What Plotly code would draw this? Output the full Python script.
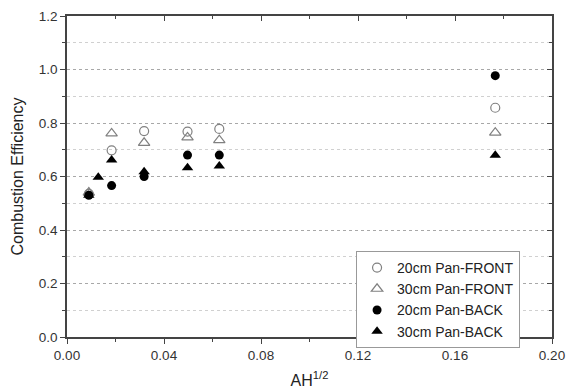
import plotly.graph_objects as go

# Data
x_20_front = [0.009, 0.0184, 0.0318, 0.0497, 0.0628, 0.1766]
y_20_front = [0.535, 0.698, 0.770, 0.768, 0.778, 0.857]

x_30_front = [0.009, 0.0184, 0.0318, 0.0497, 0.0628, 0.1766]
y_30_front = [0.540, 0.761, 0.726, 0.746, 0.736, 0.764]

x_20_back = [0.009, 0.0184, 0.0318, 0.0497, 0.0628, 0.1766]
y_20_back = [0.530, 0.566, 0.600, 0.680, 0.680, 0.977]

x_30_back = [0.009, 0.0129, 0.0184, 0.0318, 0.0497, 0.0628, 0.1766]
y_30_back = [0.530, 0.597, 0.662, 0.618, 0.633, 0.639, 0.679]

x_ticks = [0.00, 0.04, 0.08, 0.12, 0.16, 0.20]
x_tick_labels = ["0.00", "0.04", "0.08", "0.12", "0.16", "0.20"]
y_ticks = [0.0, 0.2, 0.4, 0.6, 0.8, 1.0, 1.2]
y_tick_labels = ["0.0", "0.2", "0.4", "0.6", "0.8", "1.0", "1.2"]

FONT = "Liberation Sans, Arial, sans-serif"
AXC = "#444444"
OPEN_C = "#808080"

fig = go.Figure()
fig.add_trace(go.Scatter(x=x_20_front, y=y_20_front, mode="markers", name="20cm Pan-FRONT",
                         marker=dict(symbol="circle-open", size=9, color=OPEN_C, line=dict(width=1.2))))
fig.add_trace(go.Scatter(x=x_30_front, y=y_30_front, mode="markers", name="30cm Pan-FRONT",
                         marker=dict(symbol="triangle-up-open", size=10, color=OPEN_C, line=dict(width=1.2))))
fig.add_trace(go.Scatter(x=x_20_back, y=y_20_back, mode="markers", name="20cm Pan-BACK",
                         marker=dict(symbol="circle", size=9, color="black")))
fig.add_trace(go.Scatter(x=x_30_back, y=y_30_back, mode="markers", name="30cm Pan-BACK",
                         marker=dict(symbol="triangle-up", size=10, color="black")))
# empty trace to activate mirrored top/right axes
fig.add_trace(go.Scatter(x=[], y=[], xaxis="x2", yaxis="y2", showlegend=False, hoverinfo="skip"))

fig.update_layout(
    width=566, height=392,
    margin=dict(l=67, r=14, t=16, b=55, autoexpand=False),
    paper_bgcolor="white", plot_bgcolor="white",
    font=dict(family=FONT, color="#333333"),
    showlegend=True,
    legend=dict(x=0.596, y=0.268, xanchor="left", yanchor="top",
                bordercolor="#999999", borderwidth=1, bgcolor="white",
                font=dict(size=14, family=FONT, color="#222222"),
                tracegroupgap=0, itemwidth=30),
    xaxis=dict(range=[0, 0.2], tickvals=x_ticks, ticktext=x_tick_labels, automargin=False,
               showgrid=False, zeroline=False, showline=True, linecolor=AXC, linewidth=1.5,
               ticks="outside", ticklen=5, tickwidth=1.2, tickcolor=AXC,
               tickfont=dict(size=13.5),
               minor=dict(dtick=0.02, ticks="outside", ticklen=3, tickcolor=AXC, showgrid=False),
               title=dict(text="AH<sup>1/2</sup>", font=dict(size=16, color="#222222"), standoff=13)),
    yaxis=dict(range=[0, 1.2], tickvals=y_ticks, ticktext=y_tick_labels, automargin=False,
               showgrid=True, gridcolor="#a8a8a8", griddash="dot", gridwidth=1,
               zeroline=False, showline=True, linecolor=AXC, linewidth=1.5,
               ticks="outside", ticklen=5, tickwidth=1.2, tickcolor=AXC,
               tickfont=dict(size=13.5),
               minor=dict(dtick=0.1, ticks="outside", ticklen=3, tickcolor=AXC,
                          showgrid=True, gridcolor="#d0d0d0", griddash="dot", gridwidth=1),
               title=dict(text="Combustion Efficiency", font=dict(size=16, color="#222222"), standoff=11)),
    xaxis2=dict(range=[0, 0.2], overlaying="x", side="top", tickvals=x_ticks, automargin=False,
                showticklabels=False, showgrid=False, zeroline=False,
                showline=True, linecolor=AXC, linewidth=1.5,
                ticks="inside", ticklen=5, tickwidth=1.2, tickcolor=AXC,
                minor=dict(dtick=0.02, ticks="inside", ticklen=3, tickcolor=AXC, showgrid=False)),
    yaxis2=dict(range=[0, 1.2], overlaying="y", side="right", tickvals=y_ticks, automargin=False,
                showticklabels=False, showgrid=False, zeroline=False,
                showline=True, linecolor=AXC, linewidth=1.5,
                ticks="inside", ticklen=5, tickwidth=1.2, tickcolor=AXC,
                minor=dict(dtick=0.1, ticks="inside", ticklen=3, tickcolor=AXC, showgrid=False)),
)

fig.write_html("out.html", config={"displayModeBar": False},
               post_script="document.body.style.margin='0';document.body.style.overflow='hidden';")
